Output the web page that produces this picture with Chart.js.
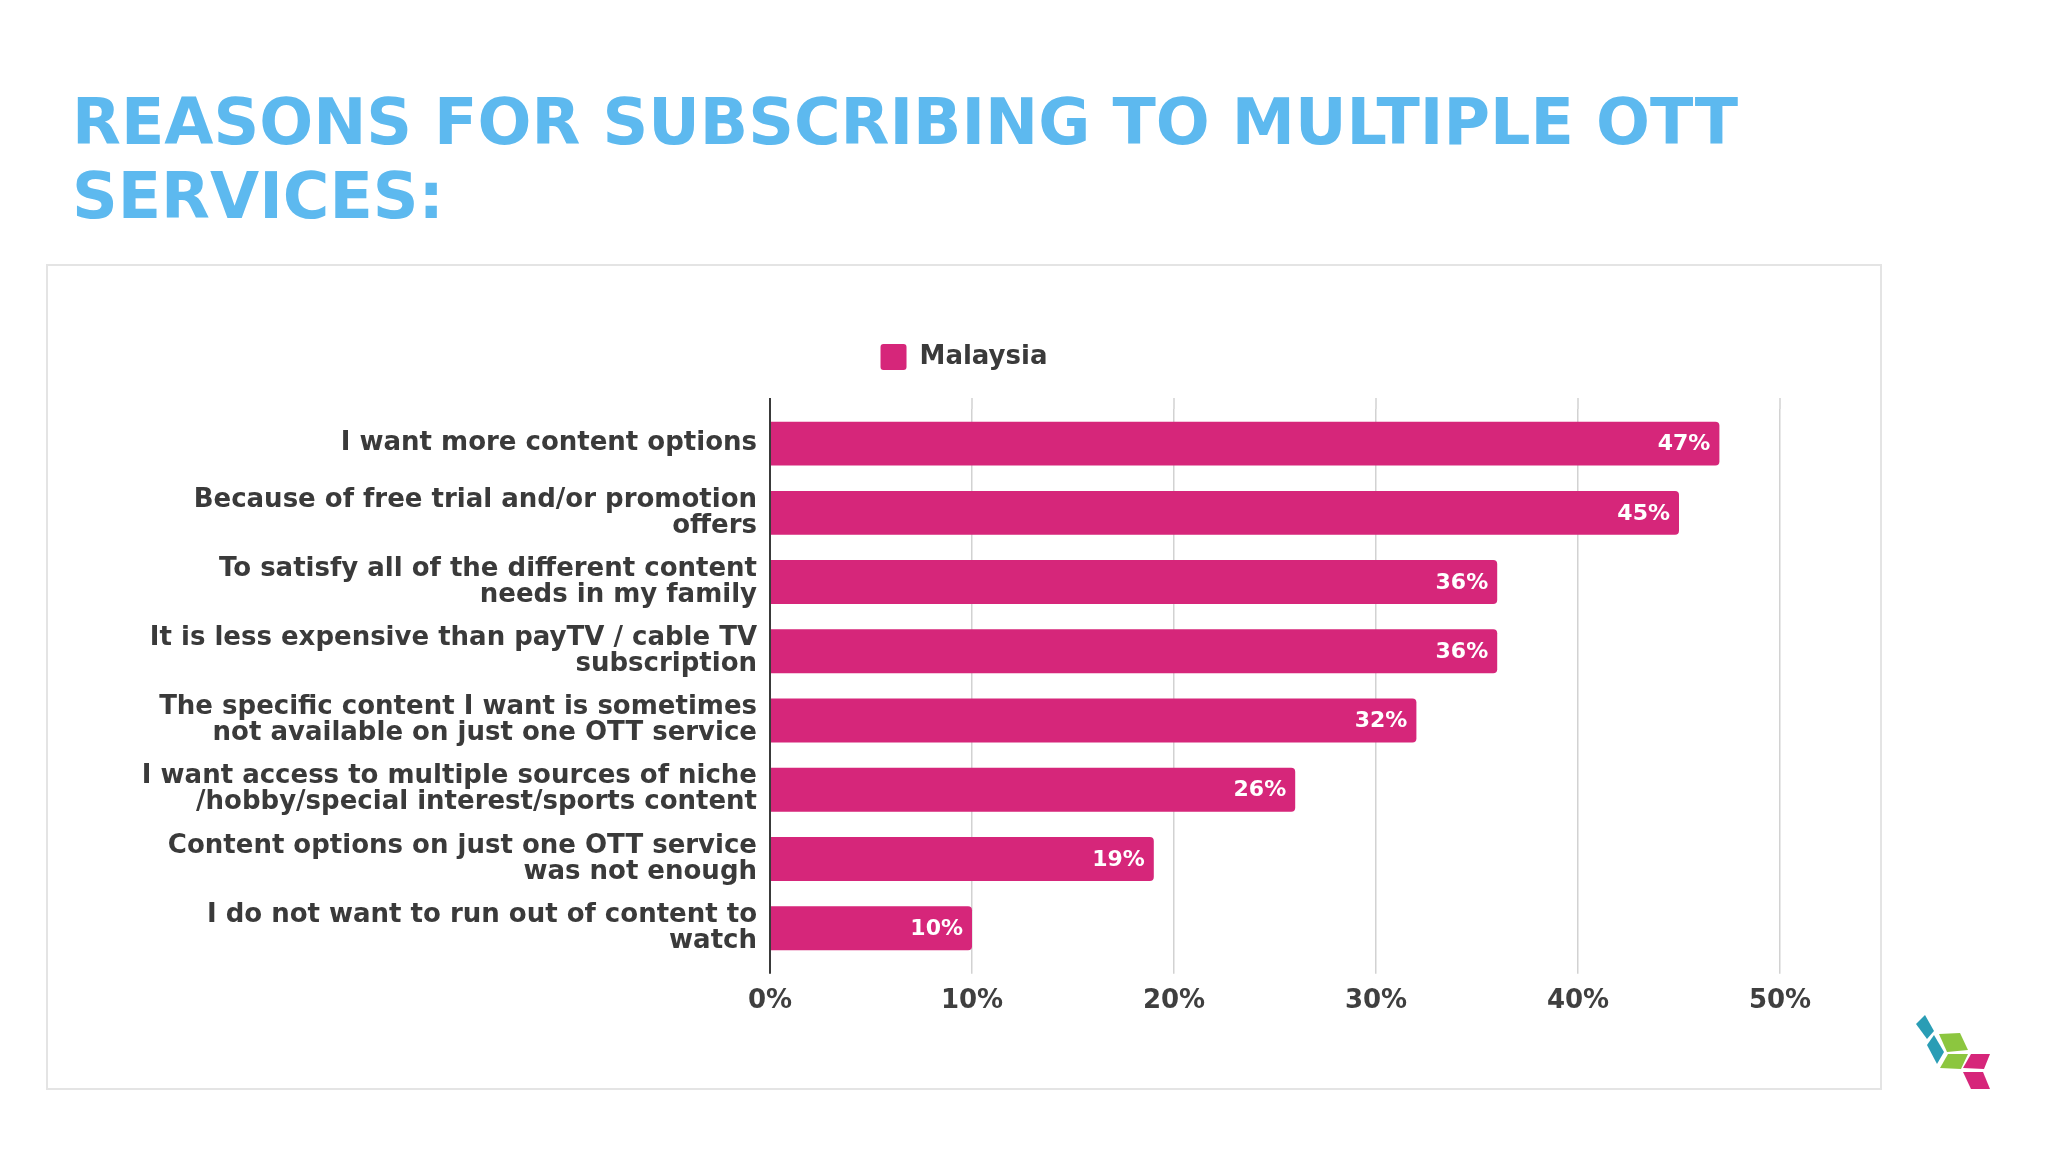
<!DOCTYPE html>
<html>
<head>
<meta charset="utf-8">
<script src="https://cdn.jsdelivr.net/npm/chart.js@4"></script>
<style>
  html, body { margin: 0; padding: 0; background: #ffffff; }
  body { width: 2048px; height: 1152px; position: relative; overflow: hidden; font-family: 'DejaVu Sans', sans-serif; }
  #title { position: absolute; left: 72px; top: 85px; font-family: 'DejaVu Sans', sans-serif; font-weight: bold; font-size: 63.5px; line-height: 74px; color: #5db9ef; white-space: nowrap; }
  #frame { position: absolute; left: 46px; top: 264px; width: 1836px; height: 826px; border: 2px solid #e4e4e4; box-sizing: border-box; background: #fff; }
  #wrap { position: absolute; left: 48px; top: 266px; width: 1832px; height: 822px; }
  #logo { position: absolute; left: 1900px; top: 1000px; }
</style>
</head>
<body>
<div id="title">REASONS FOR SUBSCRIBING TO MULTIPLE OTT<br>SERVICES:</div>
<div id="frame"></div>
<div id="wrap"><canvas id="c" width="1832" height="822"></canvas></div>
<svg id="logo" width="110" height="100" viewBox="1900 1000 110 100">
  <polygon points="1916,1024 1925,1015 1934,1031 1927,1039" fill="#2a9db5"/>
  <polygon points="1927,1045 1934,1035 1944,1052 1937,1064" fill="#2a9db5"/>
  <polygon points="1939,1034 1960,1033 1968,1050 1947,1052" fill="#8cc63f"/>
  <polygon points="1940,1068 1948,1054 1968,1054 1961,1069" fill="#8cc63f"/>
  <polygon points="1963,1068 1971,1054 1990,1054 1984,1069" fill="#d6267a"/>
  <polygon points="1963,1072 1983,1072 1990,1089 1971,1089" fill="#d6267a"/>
</svg>
<script>
const seriesName = 'Malaysia';
const categories = [
  'I want more content options',
  ['Because of free trial and/or promotion', 'offers'],
  ['To satisfy all of the different content', 'needs in my family'],
  ['It is less expensive than payTV / cable TV', 'subscription'],
  ['The specific content I want is sometimes', 'not available on just one OTT service'],
  ['I want access to multiple sources of niche', '/hobby/special interest/sports content'],
  ['Content options on just one OTT service', 'was not enough'],
  ['I do not want to run out of content to', 'watch']
];
const values = [47, 45, 36, 36, 32, 26, 19, 10];
const xTickLabels = ['0%', '10%', '20%', '30%', '40%', '50%'];

const barColor = '#d6267a';
const gridColor = '#d2d2d2';
const axisColor = '#3a3a3a';

Chart.defaults.font.family = "'DejaVu Sans', sans-serif";

const legendSpacer = {
  id: 'legendSpacer',
  beforeInit(chart) {
    const fit = chart.legend.fit;
    chart.legend.fit = function () { fit.call(this); this.height += 29; };
    const draw = chart.legend.draw;
    chart.legend.draw = function () {
      const ctx = this.ctx;
      ctx.save();
      ctx.translate(50, 0);
      draw.call(this);
      ctx.restore();
    };
  }
};

const gridTopExtension = {
  id: 'gridTopExtension',
  beforeDatasetsDraw(chart) {
    const xs = chart.scales.x, ca = chart.chartArea, ctx = chart.ctx;
    ctx.save();
    xs.ticks.forEach((t, i) => {
      const px = xs.getPixelForValue(t.value);
      ctx.beginPath();
      ctx.strokeStyle = i === 0 ? axisColor : gridColor;
      ctx.lineWidth = i === 0 ? 2 : 1.5;
      ctx.moveTo(px, ca.top - 11);
      ctx.lineTo(px, ca.top);
      ctx.stroke();
    });
    ctx.restore();
  }
};

const valueLabels = {
  id: 'valueLabels',
  afterDatasetsDraw(chart) {
    const ctx = chart.ctx;
    const meta = chart.getDatasetMeta(0);
    ctx.save();
    ctx.fillStyle = '#ffffff';
    ctx.font = "bold 22px 'DejaVu Sans', sans-serif";
    ctx.textAlign = 'right';
    ctx.textBaseline = 'middle';
    meta.data.forEach((bar, i) => {
      ctx.fillText(chart.data.datasets[0].data[i] + '%', bar.x - 9, bar.y + 1);
    });
    ctx.restore();
  }
};

new Chart(document.getElementById('c'), {
  type: 'bar',
  data: {
    labels: categories,
    datasets: [{
      label: seriesName,
      data: values,
      backgroundColor: barColor,
      borderRadius: 4,
      borderSkipped: 'start',
      barPercentage: 0.634,
      categoryPercentage: 1.0
    }]
  },
  options: {
    indexAxis: 'y',
    responsive: false,
    animation: false,
    devicePixelRatio: 1,
    layout: { padding: { top: 68, bottom: 59, left: 0, right: 100 } },
    plugins: {
      legend: {
        display: true,
        position: 'top',
        labels: {
          boxWidth: 26,
          boxHeight: 26,
          padding: 10,
          useBorderRadius: true,
          borderRadius: 3,
          color: '#3a3a3a',
          font: { size: 26, weight: 'bold' }
        }
      },
      tooltip: { enabled: false }
    },
    scales: {
      x: {
        type: 'linear',
        min: 0,
        max: 50,
        ticks: {
          stepSize: 10,
          padding: 12,
          color: '#3f3f3f',
          font: { size: 26, weight: 'bold' },
          callback: (v, i) => xTickLabels[i]
        },
        grid: {
          display: true,
          drawTicks: true,
          tickLength: 11,
          lineWidth: (c) => c.index === 0 ? 2 : 1.5,
          color: (c) => c.index === 0 ? axisColor : gridColor,
          tickColor: (c) => c.index === 0 ? axisColor : gridColor,
          tickWidth: (c) => c.index === 0 ? 2 : 1.5
        },
        border: { display: false }
      },
      y: {
        type: 'category',
        ticks: {
          padding: 13,
          color: '#3a3a3a',
          font: { size: 26, weight: 'bold', lineHeight: 1.0 }
        },
        grid: { display: false, drawTicks: false },
        border: { display: true, color: axisColor, width: 2 },
        afterFit(scale) { scale.width = 722; }
      }
    }
  },
  plugins: [legendSpacer, gridTopExtension, valueLabels]
});
</script>
</body>
</html>
